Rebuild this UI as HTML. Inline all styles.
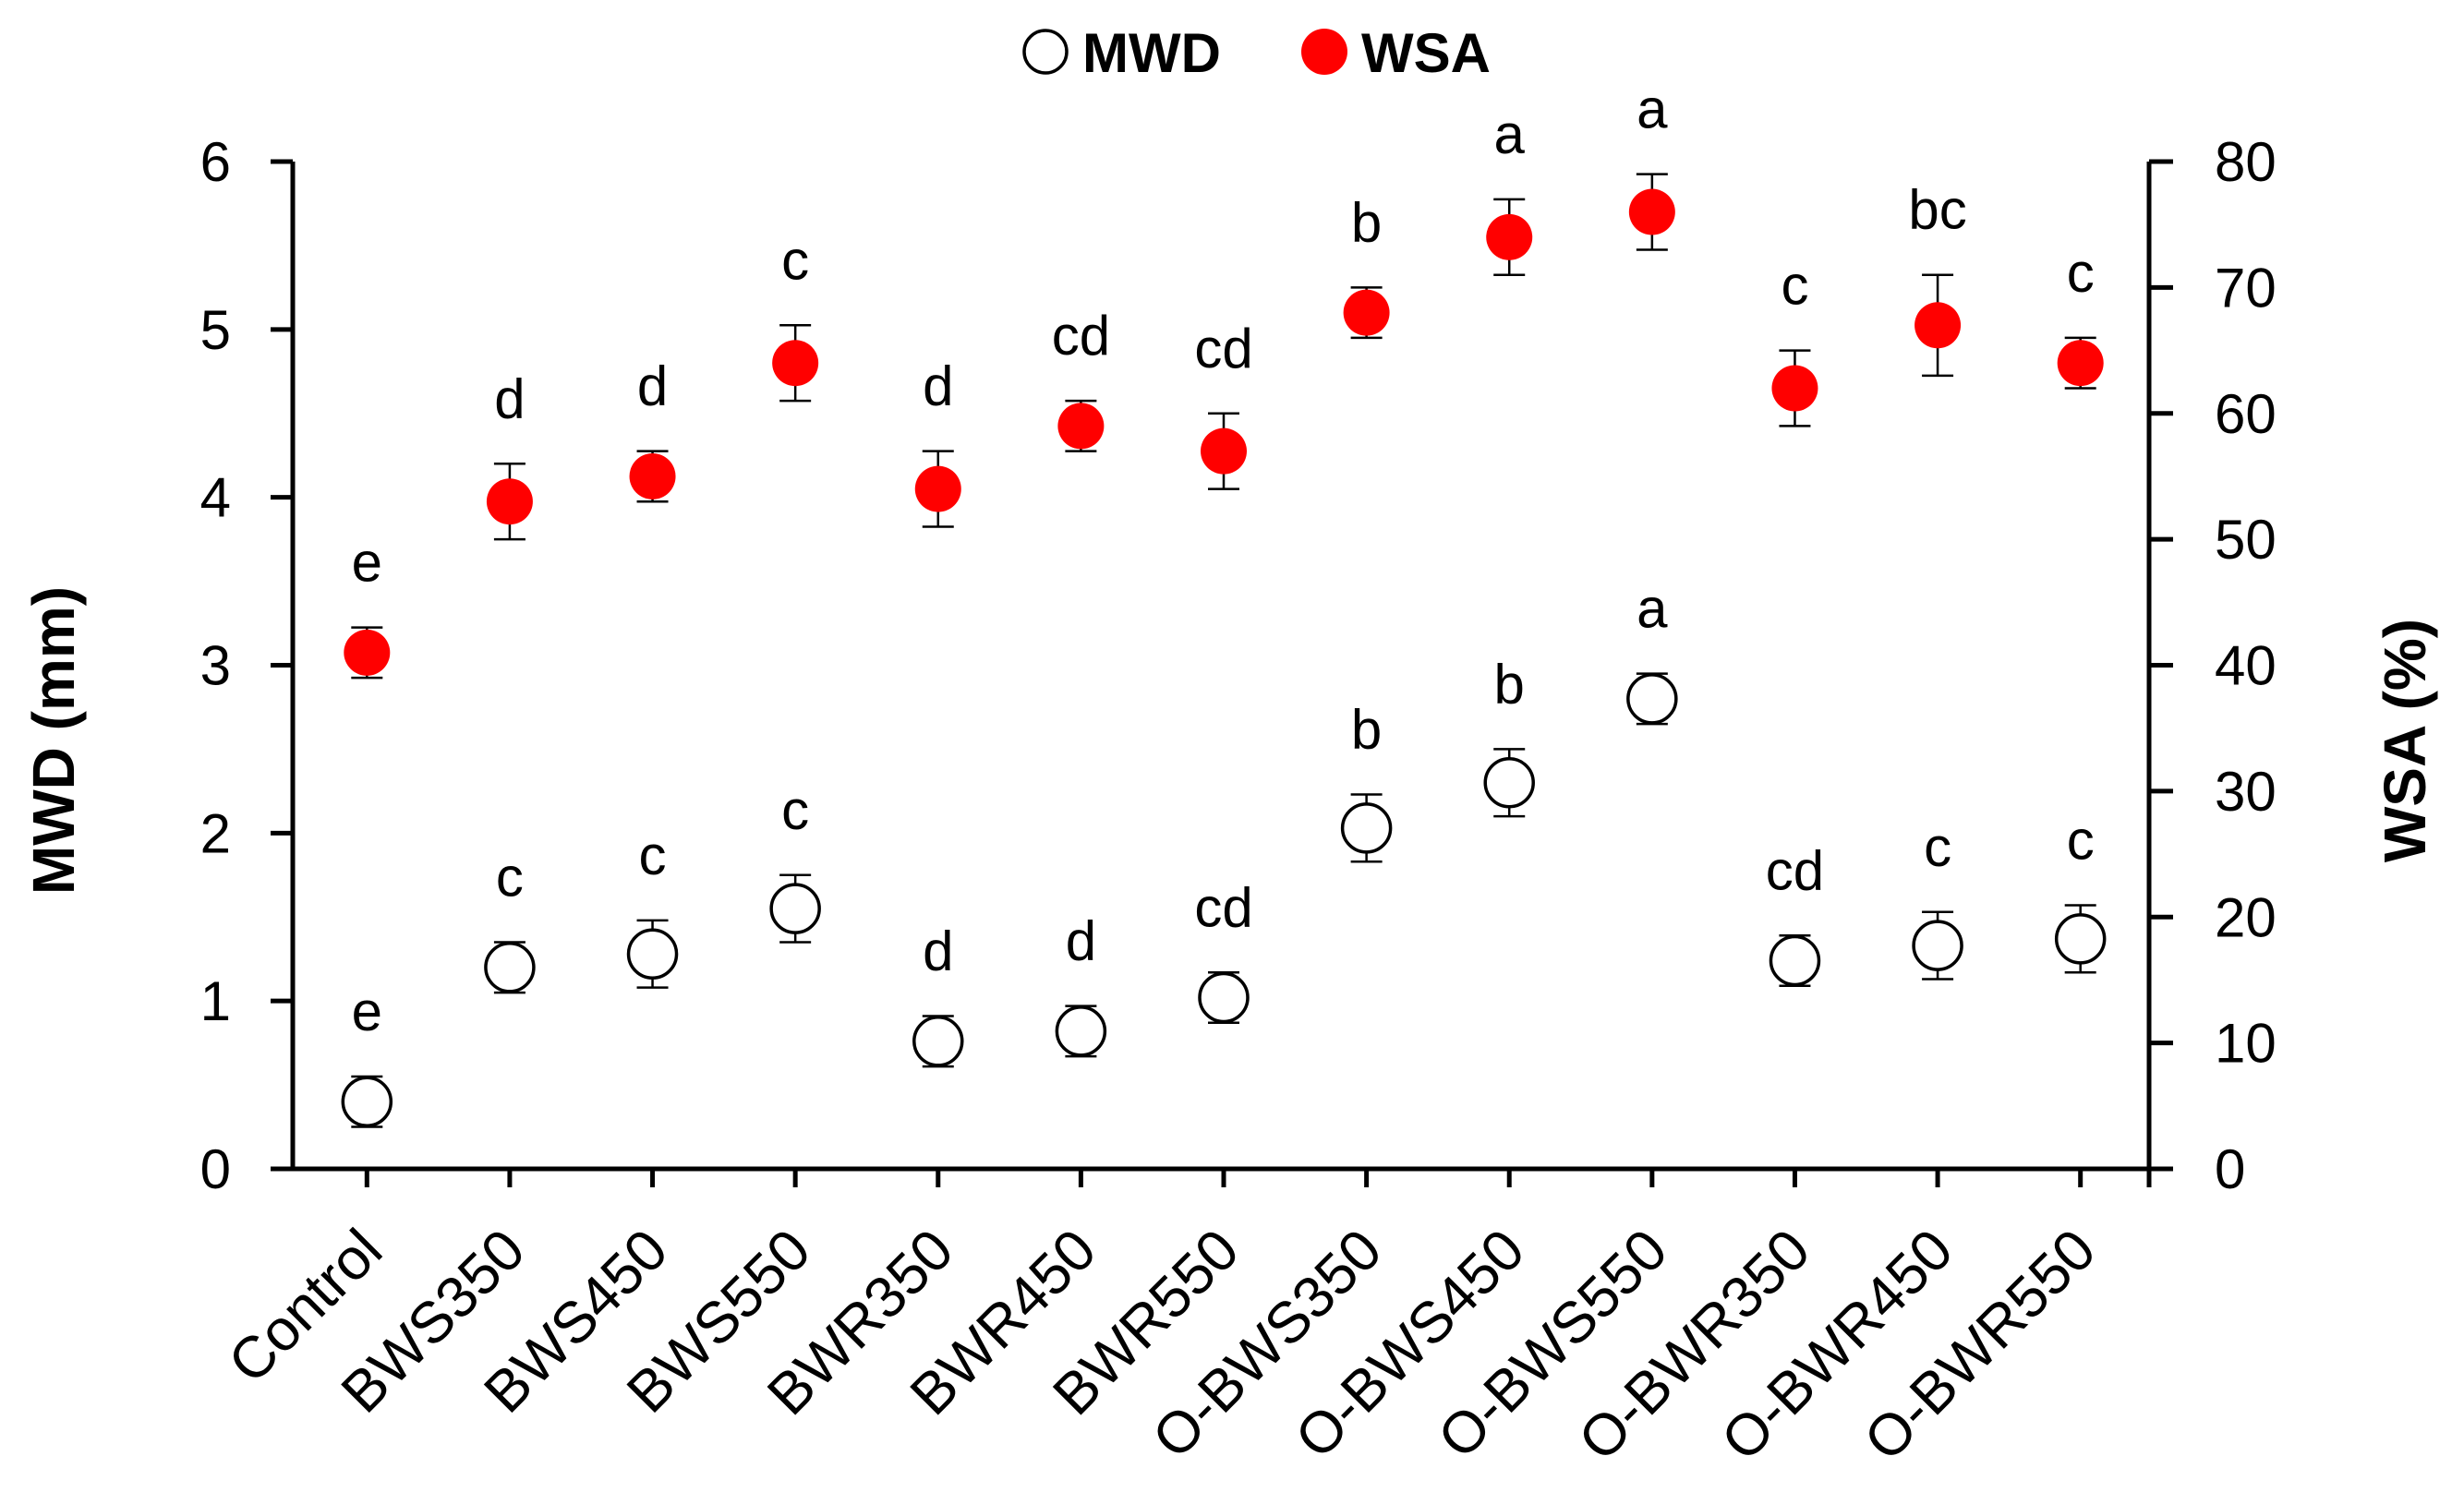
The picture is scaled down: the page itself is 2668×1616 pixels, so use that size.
<!DOCTYPE html>
<html><head><meta charset="utf-8"><style>body{margin:0;background:#fff}svg{display:block}text{font-family:"Liberation Sans",sans-serif}</style></head>
<body>
<svg id="chart" width="2668" height="1616" viewBox="0 0 2668 1616">
<g>
<circle cx="1132" cy="56" r="23" fill="#fff" stroke="#000" stroke-width="3.5"/>
<text x="1172" y="78" font-size="60" font-weight="bold">MWD</text>
<circle cx="1434" cy="56" r="25" fill="#f00"/>
<text x="1474" y="78" font-size="60" font-weight="bold">WSA</text>
</g>
<text transform="translate(80,802) rotate(-90)" text-anchor="middle" font-size="64" font-weight="bold">MWD (mm)</text>
<text transform="translate(2626,802) rotate(-90)" text-anchor="middle" font-size="64" font-weight="bold">WSA (%)</text>
<g id="axes"></g><g id="marks"></g>
</svg>
<script>
const categories=["Control","BWS350","BWS450","BWS550","BWR350","BWR450","BWR550","O-BWS350","O-BWS450","O-BWS550","O-BWR350","O-BWR450","O-BWR550"];
const mwd=[0.4,1.2,1.28,1.55,0.76,0.82,1.02,2.03,2.3,2.8,1.24,1.33,1.37];
const mwdErr=[0.15,0.15,0.2,0.2,0.15,0.15,0.15,0.2,0.2,0.15,0.15,0.2,0.2];
const mwdLetters=["e","c","c","c","d","d","cd","b","b","a","cd","c","c"];
const wsa=[41,53,55,64,54,59,57,68,74,76,62,67,64];
const wsaErr=[2,3,2,3,3,2,3,2,3,3,3,4,2];
const wsaLetters=["e","d","d","c","d","cd","cd","b","a","a","c","bc","c"];
const leftTicks=[0,1,2,3,4,5,6];
const rightTicks=[0,10,20,30,40,50,60,70,80];
const NS="http://www.w3.org/2000/svg";
const X0=317,X1=2327,Y0=1266,Y1=175;
const step=(X1-X0)/categories.length;
const xs=i=>X0+step*(i+0.5)+3;
const yL=v=>Y0-(v/6)*(Y0-Y1);
const yR=v=>Y0-(v/80)*(Y0-Y1);
function mk(tag,attrs,parent,txt){const e=document.createElementNS(NS,tag);for(const k in attrs)e.setAttribute(k,attrs[k]);if(txt!==undefined)e.textContent=txt;parent.appendChild(e);return e;}
const ax=document.getElementById('axes'),mg=document.getElementById('marks');
let e;
e=mk('path',{d:`M${X0},${Y1}V${Y0}H${X1}V${Y1}`,fill:'none',stroke:'#000','stroke-width':5},ax);


leftTicks.forEach(t=>{const y=yL(t);
e=mk('line',{x1:X0-24,x2:X0,y1:y,y2:y,stroke:'#000','stroke-width':5},ax);


e=mk('text',{x:250,y:y+21,'text-anchor':'end','font-size':60},ax,String(t));

});
rightTicks.forEach(t=>{const y=yR(t);
e=mk('line',{x1:X1,x2:X1+26,y1:y,y2:y,stroke:'#000','stroke-width':5},ax);


e=mk('text',{x:2398,y:y+21,'font-size':60},ax,String(t));

});
categories.forEach((c,i)=>{const x=xs(i);
e=mk('line',{x1:x,x2:x,y1:Y0,y2:Y0+20,stroke:'#000','stroke-width':5},ax);


e=mk('text',{transform:`translate(${x+20},${Y0+92}) rotate(-45)`,'text-anchor':'end','font-size':63},ax,c);

});
e=mk('line',{x1:X1,x2:X1,y1:Y0,y2:Y0+20,stroke:'#000','stroke-width':5},ax);


function series(vals,errs,letters,yf,filled,name){
vals.forEach((v,i)=>{const x=xs(i),y=yf(v),yt=yf(v+errs[i]),yb=yf(v-errs[i]);
e=mk('path',{d:`M${x},${yt}V${yb}M${x-17},${yt}H${x+17}M${x-17},${yb}H${x+17}`,stroke:'#000','stroke-width':2.5,fill:'none'},mg);


e=mk('circle',filled?{cx:x,cy:y,r:25,fill:'#f00'}:{cx:x,cy:y,r:26,fill:'#fff',stroke:'#000','stroke-width':3.5},mg);


e=mk('text',{x:x,y:yt-50,'text-anchor':'middle','font-size':60},mg,letters[i]);

});}
series(wsa,wsaErr,wsaLetters,yR,true,'wsa');
series(mwd,mwdErr,mwdLetters,yL,false,'mwd');
</script>
</body></html>
